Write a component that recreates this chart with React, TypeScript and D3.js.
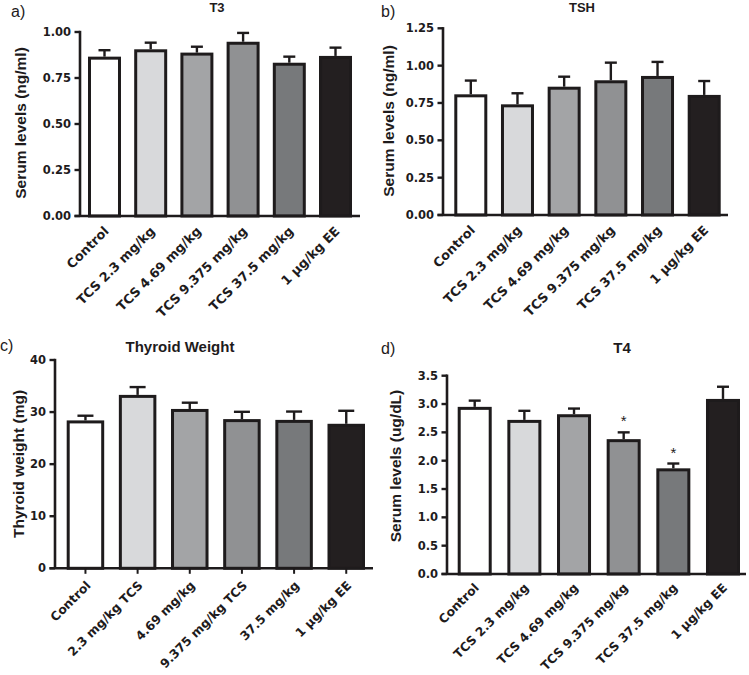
import React from "react";
import * as d3 from "d3";

// ---------- data ----------
const serumCategories = ["Control", "TCS 2.3 mg/kg", "TCS 4.69 mg/kg", "TCS 9.375 mg/kg", "TCS 37.5 mg/kg", "1 µg/kg EE"];
const weightCategories = ["Control", "2.3 mg/kg TCS", "4.69 mg/kg", "9.375 mg/kg TCS", "37.5 mg/kg", "1 µg/kg EE"];

const t3Means = [0.866, 0.906, 0.888, 0.947, 0.833, 0.87];
const t3Errors = [0.035, 0.036, 0.032, 0.048, 0.033, 0.045];
const t3Ticks = [0, 0.25, 0.5, 0.75, 1.0];

const tshMeans = [0.808, 0.741, 0.859, 0.902, 0.931, 0.804];
const tshErrors = [0.092, 0.074, 0.067, 0.118, 0.094, 0.093];
const tshTicks = [0, 0.25, 0.5, 0.75, 1.0, 1.25];

const weightMeans = [28.4, 33.3, 30.6, 28.65, 28.5, 27.75];
const weightErrors = [0.9, 1.5, 1.2, 1.4, 1.6, 2.5];
const weightTicks = [0, 10, 20, 30, 40];

const t4Means = [2.95, 2.72, 2.82, 2.38, 1.865, 3.09];
const t4Errors = [0.11, 0.16, 0.1, 0.12, 0.085, 0.215];
const t4Significant = [false, false, false, true, true, false];
const t4Ticks = [0, 0.5, 1.0, 1.5, 2.0, 2.5, 3.0, 3.5];

const barColors = ["#ffffff", "#d8d9db", "#a3a4a6", "#909193", "#77797b", "#231f20"];

// ---------- layout ----------
const INK = "#1e1b1c";
const TICK_FONT = "'DejaVu Sans', sans-serif";
const LABEL_FONT = "'Liberation Sans', Arial, sans-serif";

type PanelProps = {
  letter: string;
  letterX: number;
  letterY: number;
  title: string;
  titleX: number;
  titleY: number;
  titleSize: number;
  yLabel: string;
  yLabelX: number;
  yLabelY: number;
  categories: string[];
  means: number[];
  errors: number[];
  ticks: number[];
  tickFormat: string;
  domainMax: number;
  x0: number;
  x1: number;
  yTop: number;
  yBottom: number;
  barStart: number;
  barEnd: number;
  padInner: number;
  capWidth: number;
  xTicks?: boolean;
  labelDx: number;
  labelDy: number;
  labelSize: number;
  significant?: boolean[];
};

function Panel(p: PanelProps) {
  const y = d3.scaleLinear().domain([0, p.domainMax]).range([p.yBottom, p.yTop]);
  const x = d3
    .scaleBand<string>()
    .domain(p.categories)
    .range([p.barStart, p.barEnd])
    .paddingInner(p.padInner)
    .paddingOuter(0);
  const fmt = d3.format(p.tickFormat);
  const bw = x.bandwidth();
  return (
    <g>
      <text x={p.letterX} y={p.letterY} fontFamily={LABEL_FONT} fontSize={16} fill={INK}>
        {p.letter}
      </text>
      <text
        x={p.titleX}
        y={p.titleY}
        textAnchor="middle"
        fontFamily={LABEL_FONT}
        fontWeight="bold"
        fontSize={p.titleSize}
        fill={INK}
      >
        {p.title}
      </text>
      <text
        transform={`translate(${p.yLabelX},${p.yLabelY}) rotate(-90)`}
        textAnchor="middle"
        fontFamily={LABEL_FONT}
        fontWeight="bold"
        fontSize={15.5}
        fill={INK}
      >
        {p.yLabel}
      </text>
      {/* bars */}
      {p.categories.map((c, i) => {
        const bx = x(c) as number;
        const top = y(p.means[i]);
        const errTop = y(p.means[i] + p.errors[i]);
        const cx = bx + bw / 2;
        return (
          <g key={c}>
            <line x1={cx} x2={cx} y1={top} y2={errTop} stroke={INK} strokeWidth={2.4} />
            <line
              x1={cx - p.capWidth / 2}
              x2={cx + p.capWidth / 2}
              y1={errTop}
              y2={errTop}
              stroke={INK}
              strokeWidth={2.4}
            />
            <rect
              x={bx + 1.5}
              y={top + 1.5}
              width={bw - 3}
              height={y(0) - top - 1.5}
              fill={barColors[i]}
              stroke={INK}
              strokeWidth={3}
            />
            {p.significant && p.significant[i] ? (
              <text x={cx} y={errTop - 6} textAnchor="middle" fontFamily={LABEL_FONT} fontSize={15} fill={INK}>
                *
              </text>
            ) : null}
          </g>
        );
      })}
      {/* y axis */}
      <line x1={p.x0} x2={p.x0} y1={p.yTop - 1.2} y2={p.yBottom} stroke={INK} strokeWidth={2.6} />
      {p.ticks.map((t) => (
        <g key={t}>
          <line x1={p.x0 - 5.5} x2={p.x0} y1={y(t)} y2={y(t)} stroke={INK} strokeWidth={2.4} />
          <text
            x={p.x0 - 9}
            y={y(t)}
            dy="0.36em"
            textAnchor="end"
            fontFamily={TICK_FONT}
            fontWeight="bold"
            fontSize={11.5}
            fill={INK}
          >
            {fmt(t)}
          </text>
        </g>
      ))}
      {/* x axis */}
      <line x1={p.x0 - 5.5} x2={p.x1} y1={p.yBottom} y2={p.yBottom} stroke={INK} strokeWidth={2.6} />
      {p.categories.map((c) => {
        const cx = (x(c) as number) + bw / 2;
        return (
          <g key={"lab" + c}>
            {p.xTicks ? (
              <line x1={cx} x2={cx} y1={p.yBottom} y2={p.yBottom + 5.5} stroke={INK} strokeWidth={2} />
            ) : null}
            <text
              transform={`translate(${cx + p.labelDx},${p.yBottom + p.labelDy}) rotate(-45)`}
              textAnchor="end"
              fontFamily={TICK_FONT}
              fontWeight="bold"
              fontSize={p.labelSize}
              fill={INK}
            >
              {c}
            </text>
          </g>
        );
      })}
    </g>
  );
}

export default function App() {
  return (
    <svg width={749} height={675} style={{ display: "block", position: "absolute", left: 0, top: 0 }}>
      <rect width={749} height={675} fill="#ffffff" />
      <Panel
        letter="a)"
        letterX={11}
        letterY={17}
        title="T3"
        titleX={217}
        titleY={12}
        titleSize={13}
        yLabel="Serum levels (ng/ml)"
        yLabelX={26}
        yLabelY={123}
        categories={serumCategories}
        means={t3Means}
        errors={t3Errors}
        ticks={t3Ticks}
        tickFormat=".2f"
        domainMax={1.0}
        x0={80}
        x1={360}
        yTop={32}
        yBottom={216}
        barStart={88}
        barEnd={352}
        padInner={0.286}
        capWidth={12}
        labelDx={5}
        labelDy={16}
        labelSize={12.8}
      />
      <Panel
        letter="b)"
        letterX={381}
        letterY={17}
        title="TSH"
        titleX={582}
        titleY={12}
        titleSize={13}
        yLabel="Serum levels (ng/ml)"
        yLabelX={394}
        yLabelY={121}
        categories={serumCategories}
        means={tshMeans}
        errors={tshErrors}
        ticks={tshTicks}
        tickFormat=".2f"
        domainMax={1.25}
        x0={443}
        x1={728}
        yTop={28.3}
        yBottom={215}
        barStart={454.3}
        barEnd={720.7}
        padInner={0.293}
        capWidth={12}
        labelDx={5}
        labelDy={16}
        labelSize={12.8}
      />
      <Panel
        letter="c)"
        letterX={0}
        letterY={351}
        title="Thyroid Weight"
        titleX={180}
        titleY={352}
        titleSize={15}
        yLabel="Thyroid weight (mg)"
        yLabelX={24}
        yLabelY={464}
        categories={weightCategories}
        means={weightMeans}
        errors={weightErrors}
        ticks={weightTicks}
        tickFormat="d"
        domainMax={40}
        x0={55}
        x1={373}
        yTop={360}
        yBottom={568.3}
        barStart={66.7}
        barEnd={365}
        padInner={0.281}
        capWidth={16}
        xTicks={true}
        labelDx={6}
        labelDy={18}
        labelSize={12.3}
      />
      <Panel
        letter="d)"
        letterX={381}
        letterY={354}
        title="T4"
        titleX={622}
        titleY={352.5}
        titleSize={15}
        yLabel="Serum levels (ug/dL)"
        yLabelX={401}
        yLabelY={466}
        categories={serumCategories}
        means={t4Means}
        errors={t4Errors}
        ticks={t4Ticks}
        tickFormat=".1f"
        domainMax={3.5}
        x0={447}
        x1={746}
        yTop={375.7}
        yBottom={574}
        barStart={457.7}
        barEnd={740}
        padInner={0.315}
        capWidth={12}
        labelDx={5}
        labelDy={14.5}
        labelSize={12.3}
        significant={t4Significant}
      />
    </svg>
  );
}
